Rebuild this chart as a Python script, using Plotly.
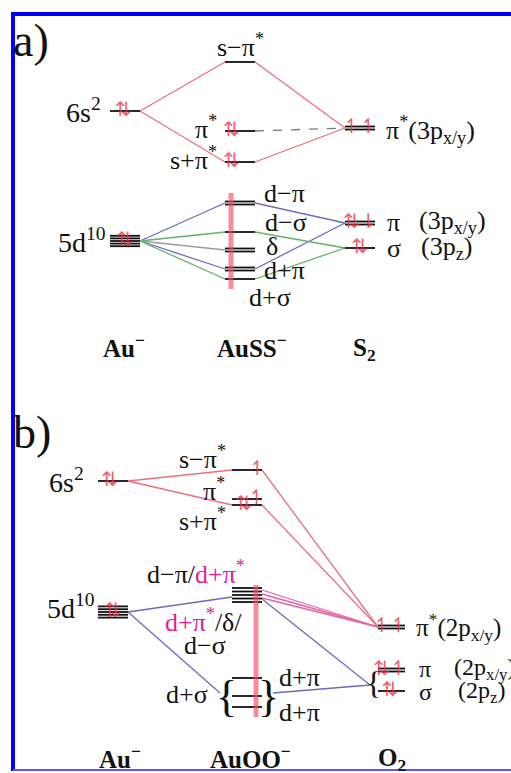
import plotly.graph_objects as go

W, H = 511, 773
SERIF = "Liberation Serif, Times New Roman, serif"
ARROWF = "DejaVu Sans"

# ---------------- data: panel a (Au- + S2 -> AuSS-) ----------------
a_cols = {"Au": (110, 140), "M": (225, 255), "R": (345, 375)}
a_names = ["6s2", "5d10", "s-pi*", "pi*", "s+pi*", "d-pi", "d-sig", "delta",
           "d+pi", "d+sig", "R_pi*", "R_pi", "R_sig"]
a_col = ["Au", "Au", "M", "M", "M", "M", "M", "M", "M", "M", "R", "R", "R"]
a_y = [111, 241, 62, 131, 162, 203, 232, 250, 269, 279, 128, 223, 248]
a_nlines = [1, 5, 1, 1, 1, 2, 1, 2, 2, 1, 2, 2, 1]
a_elec = ["⇅", "⇅", "", "⇅", "⇅", "", "", "", "", "", "↿↿", "⇅⇂", "⇅"]
a_efrac = [0.45, 0.5, 0, 0.22, 0.22, 0, 0, 0, 0, 0, 0.5, 0.5, 0.5]
a_links = [
    ("6s2", "s-pi*", "red"), ("6s2", "s+pi*", "red"),
    ("s-pi*", "R_pi*", "red"), ("s+pi*", "R_pi*", "red"),
    ("pi*", "R_pi*", "dash"),
    ("5d10", "d-pi", "blue"), ("5d10", "d+pi", "blue"),
    ("d-pi", "R_pi", "blue"), ("d+pi", "R_pi", "blue"),
    ("5d10", "d-sig", "green"), ("5d10", "d+sig", "green"),
    ("d-sig", "R_sig", "green"), ("d+sig", "R_sig", "green"),
    ("5d10", "delta", "grey"),
]
a_bar_levels = ["d-pi", "d+sig"]

# ---------------- data: panel b (Au- + O2 -> AuOO-) ----------------
b_cols = {"Au": (98, 128), "M": (232, 262), "R": (378, 405)}
b_names = ["6s2", "5d10", "s-pi*", "pi*", "s+pi*", "dblock", "low1", "low2",
           "low3", "R_pi*", "R_pi", "R_sig"]
b_col = ["Au", "Au", "M", "M", "M", "M", "M", "M", "M", "R", "R", "R"]
b_y = [481, 612, 470, 499, 505, 595, 678, 696, 707, 627, 670, 691]
b_nlines = [1, 5, 1, 1, 1, 5, 1, 1, 1, 2, 2, 1]
b_elec = ["⇅", "⇅", "↿", "↿", "⇅", "", "", "", "", "↿↿", "⇅↿", "⇅"]
b_efrac = [0.4, 0.5, 0.85, 0.82, 0.4, 0, 0, 0, 0, 0.45, 0.45, 0.45]
b_links = [
    ("6s2", "s-pi*", "red"), ("6s2", "s+pi*", "red"),
    ("s-pi*", "R_pi*", "red"), ("s+pi*", "R_pi*", "red"),
    ("5d10", "dblock", "blue"), ("5d10", "braceL", "blue"),
    ("dblock", "R_brace", "blue"), ("braceR", "R_brace", "blue"),
    ("dblock", "R_pi*", "pink"),
]
b_bar_levels = ["dblock", "low3"]

COLORS = {"red": "#ea6f80", "blue": "#6b6bbd", "green": "#5fb35f",
          "grey": "#9a9a9a", "dash": "#777777", "pink": "#e563a8"}
ELEC = "rgba(236,52,72,0.8)"
BAR = "rgba(240,80,100,0.65)"

fig = go.Figure()


def level_anchor(cols, names, col, ys, nl, name):
    i = names.index(name)
    x0, x1 = cols[col[i]]
    return x0, x1, ys[i], nl[i]


def build_panel(cols, names, col, ys, nl, elec, efrac, links, bar_levels,
                bar_frac, extra_anchors, spacing):
    # level lines
    lx, ly = [], []
    for i, n in enumerate(names):
        x0, x1 = cols[col[i]]
        k = nl[i]
        sp = spacing.get(n, 3)
        for j in range(k):
            off = (j - (k - 1) / 2) * sp
            lx += [x0, x1, None]
            ly += [ys[i] + off, ys[i] + off, None]
    # links
    groups = {}
    for a, b, c in links:
        if a in extra_anchors:
            xa, ya = extra_anchors[a]
            ya_list = [ya]
        else:
            x0, x1, y, k = level_anchor(cols, names, col, ys, nl, a)
            xa = x1
            ya_list = [y]
            if a == "dblock" and c == "pink":
                ya_list = [y - 5, y - 1, y + 3]
            elif a == "dblock" and c == "blue":
                ya_list = [y + 4]
        if b in extra_anchors:
            xb, yb = extra_anchors[b]
        else:
            x0, x1, yb, k = level_anchor(cols, names, col, ys, nl, b)
            xb = x0
            if a == "5d10" and b == "dblock":
                yb = yb + 2
        for ya in ya_list:
            gx, gy = groups.setdefault(c, ([], []))
            gx += [xa, xb, None]
            gy += [ya, yb, None]
    for c, (gx, gy) in groups.items():
        fig.add_trace(go.Scatter(
            x=gx, y=gy, mode="lines", hoverinfo="skip",
            line=dict(color=COLORS[c], width=1.3,
                      dash="dash" if c == "dash" else "solid")))
    fig.add_trace(go.Scatter(x=lx, y=ly, mode="lines", hoverinfo="skip",
                             line=dict(color="#111111", width=1.8)))
    # occupied-d bar
    i0 = names.index(bar_levels[0])
    i1 = names.index(bar_levels[1])
    x0, x1 = cols[col[i0]]
    bx = x0 + bar_frac * (x1 - x0)
    fig.add_trace(go.Scatter(x=[bx, bx], y=[ys[i0] - 10, ys[i1] + 10],
                             mode="lines", hoverinfo="skip",
                             line=dict(color=BAR, width=5)))
    # electrons
    ex, ey, et = [], [], []
    for i, n in enumerate(names):
        if elec[i]:
            x0, x1 = cols[col[i]]
            ex.append(x0 + efrac[i] * (x1 - x0))
            ey.append(ys[i])
            et.append(elec[i])
    fig.add_trace(go.Scatter(x=ex, y=ey, mode="text", text=et, hoverinfo="skip",
                             textfont=dict(family=ARROWF, size=20, color=ELEC)))


build_panel(a_cols, a_names, a_col, a_y, a_nlines, a_elec, a_efrac, a_links,
            a_bar_levels, 0.2, {}, {"5d10": 2.6})

b_extra = {"braceL": (220, 693), "braceR": (273, 693), "R_brace": (370, 685)}
build_panel(b_cols, b_names, b_col, b_y, b_nlines, b_elec, b_efrac, b_links,
            b_bar_levels, 0.8, b_extra, {"5d10": 2.8, "dblock": 3.5})

# ---------------- text labels ----------------
MAG = "#e0209a"
LS = 26   # level label size
BS = 25   # bottom species label size
RS = 24   # right-hand O2 label size


def lab(x, y, t, size=LS, anchor="left", color="#111111", fam=SERIF):
    fig.add_annotation(x=x, y=y, xref="x", yref="y", text=t, showarrow=False,
                       xanchor=anchor, yanchor="middle",
                       font=dict(family=fam, size=size, color=color))


# panel a
lab(11, 40, "a)", size=46)
lab(240, 45, "s−π<sup>*</sup>", anchor="center")
lab(103, 110, "6s<sup>2</sup>", anchor="right", size=28)
lab(219, 127, "π<sup>*</sup>", anchor="right")
lab(219, 158, "s+π<sup>*</sup>", anchor="right")
lab(384, 130, "π<sup>*</sup>(3p<sub>x/y</sub>)")
lab(262, 193, "d−π")
lab(263, 222, "d−σ")
lab(264, 246, "δ")
lab(262, 270, "d+π")
lab(247, 297, "d+σ")
lab(385, 222, "π")
lab(417, 222, "(3p<sub>x/y</sub>)")
lab(385, 248, "σ")
lab(419, 248, "(3p<sub>z</sub>)")
lab(108, 240, "5d<sup>10</sup>", anchor="right", size=28)
lab(124, 346, "<b>Au<sup>−</sup></b>", anchor="center", size=BS)
lab(252, 346, "<b>AuSS<sup>−</sup></b>", anchor="center", size=BS)
lab(364, 349, "<b>S<sub>2</sub></b>", anchor="center", size=BS)

# panel b
lab(11, 432, "b)", size=46)
lab(86, 480, "6s<sup>2</sup>", anchor="right", size=28)
lab(202, 457, "s−π<sup>*</sup>", anchor="center")
lab(227, 489, "π<sup>*</sup>", anchor="right")
lab(202, 519, "s+π<sup>*</sup>", anchor="center")
lab(196, 572, "d−π/<span style='color:%s'>d+π<sup>*</sup></span>" % MAG, anchor="center")
lab(97, 606, "5d<sup>10</sup>", anchor="right", size=28)
lab(203, 620, "<span style='color:%s'>d+π<sup>*</sup></span>/δ/" % MAG, anchor="center")
lab(205, 645, "d−σ", anchor="center")
lab(210, 694, "d+σ", anchor="right")
lab(277, 677, "d+π")
lab(277, 712, "d+π")
lab(414, 627, "π<sup>*</sup>(2p<sub>x/y</sub>)", size=RS + 1)
lab(417, 669, "π", size=RS)
lab(452, 669, "(2p<sub>x/y</sub>)", size=RS)
lab(417, 692, "σ", size=RS)
lab(456, 692, "(2p<sub>z</sub>)", size=RS)
lab(120, 757, "<b>Au<sup>−</sup></b>", anchor="center", size=BS)
lab(250, 757, "<b>AuOO<sup>−</sup></b>", anchor="center", size=BS)
lab(392, 759, "<b>O<sub>2</sub></b>", anchor="center", size=BS)

# braces
lab(226, 696, "{", anchor="center", size=44)
lab(268, 696, "}", anchor="center", size=44)
lab(373, 683, "{", anchor="center", size=32)

# frame
fig.add_shape(type="line", xref="x", yref="y", x0=13, x1=W, y0=14, y1=14,
              line=dict(color="#0000ff", width=4))
fig.add_shape(type="line", xref="x", yref="y", x0=13, x1=13, y0=12, y1=771,
              line=dict(color="#0000ff", width=4))
fig.add_shape(type="line", xref="x", yref="y", x0=13, x1=W, y0=770, y1=770,
              line=dict(color="#5a5aff", width=2))

fig.update_layout(
    width=W, height=H, margin=dict(l=0, r=0, t=0, b=0),
    paper_bgcolor="white", plot_bgcolor="white", showlegend=False,
    xaxis=dict(range=[0, W], visible=False, fixedrange=True),
    yaxis=dict(range=[H, 0], visible=False, fixedrange=True),
)
fig.write_html("out.html")
